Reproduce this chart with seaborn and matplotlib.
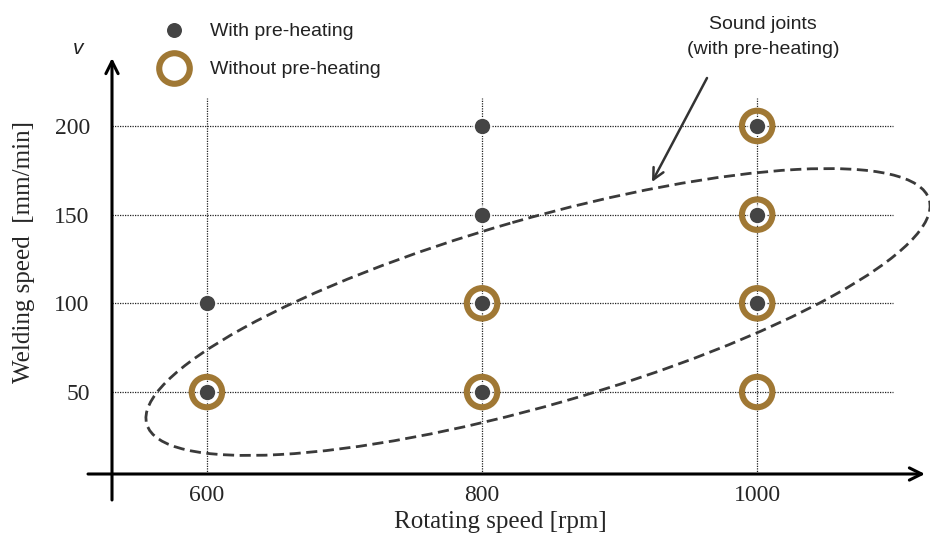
import numpy as np
import pandas as pd
import matplotlib
matplotlib.use("Agg")
import matplotlib.pyplot as plt
from matplotlib.patches import Ellipse
from matplotlib.lines import Line2D
import seaborn as sb

# data
rotating_with = [600, 600, 800, 800, 800, 800, 1000, 1000, 1000]
speed_with = [50, 100, 50, 100, 150, 200, 100, 150, 200]
rotating_without = [600, 800, 800, 1000, 1000, 1000, 1000]
speed_without = [50, 50, 100, 50, 100, 150, 200]
x_ticks = [600, 800, 1000]
y_ticks = [50, 100, 150, 200]

dark = '#444444'
brown = '#A07834'
serif = 'Liberation Serif'
sans = 'Liberation Sans'


def main():
    sb.set_style('white')
    plt.rcParams['font.family'] = ['Liberation Sans', 'DejaVu Sans']

    df_with = pd.DataFrame({'rpm': rotating_with, 'speed': speed_with})
    df_without = pd.DataFrame({'rpm': rotating_without, 'speed': speed_without})

    fig = plt.figure(figsize=(9.3, 5.36), dpi=100)
    W, H = 930, 536
    # axes placed so the spines sit where the hand-drawn axes are
    left, right, bottom, top = 112, 925, 474, 58
    ax = fig.add_axes([left / W, 1 - bottom / H, (right - left) / W, (bottom - top) / H])
    ax.set_xlim(531, 1122)
    ax.set_ylim(3.8, 238.3)

    # dotted grid
    ax.vlines(x_ticks, 3.8, 216, colors='#222222', linestyles=(0, (1, 1)), lw=0.9, zorder=1)
    ax.hlines(y_ticks, 531, 1099, colors='#222222', linestyles=(0, (1, 1)), lw=0.9, zorder=1)

    # markers
    sb.scatterplot(data=df_without, x='rpm', y='speed', ax=ax, s=480, marker='o',
                   facecolor='none', edgecolor=brown, linewidth=4.4, zorder=3, legend=False)
    sb.scatterplot(data=df_with, x='rpm', y='speed', ax=ax, s=150, marker='o',
                   color=dark, edgecolor='white', linewidth=1.2, zorder=4, legend=False)

    for s in ax.spines.values():
        s.set_visible(False)
    ax.set_xticks(x_ticks)
    ax.set_yticks(y_ticks)
    ax.tick_params(labelsize=17, direction='in', length=4, width=1, color='#222222')
    ax.tick_params(axis='x', pad=8)
    ax.tick_params(axis='y', pad=16)
    for lab in ax.get_xticklabels() + ax.get_yticklabels():
        lab.set_fontfamily(serif)

    # axis arrows
    ax.annotate('', xy=(0, 1), xytext=(0, -0.0625), xycoords='axes fraction',
                arrowprops=dict(arrowstyle='->', lw=2.2, color='black',
                                mutation_scale=22, shrinkA=0, shrinkB=0))
    ax.annotate('', xy=(1, 0), xytext=(-0.0295, 0), xycoords='axes fraction',
                arrowprops=dict(arrowstyle='->', lw=2.2, color='black',
                                mutation_scale=22, shrinkA=0, shrinkB=0))

    ax.set_xlabel('Rotating speed [rpm]', fontsize=18, fontfamily=serif, va='center')
    ax.xaxis.set_label_coords(500 / W, 1 - 522 / H, transform=fig.transFigure)
    ax.set_ylabel('Welding speed  [mm/min]', fontsize=18, fontfamily=serif, va='center')
    ax.yaxis.set_label_coords(24 / W, 1 - 252 / H, transform=fig.transFigure)

    # legend
    handles = [Line2D([], [], ls='none', marker='o', ms=12, mfc=dark, mec='white', mew=1.2),
               Line2D([], [], ls='none', marker='o', ms=22, mfc='none', mec=brown, mew=4.4)]
    ax.legend(handles, ['With pre-heating', 'Without pre-heating'], frameon=False,
              loc='upper left', bbox_to_anchor=(145 / W, 1 - 13 / H),
              bbox_transform=fig.transFigure, fontsize=14, labelspacing=1.05,
              handlelength=2.0, handletextpad=0.86, borderpad=0, labelcolor='#222222')

    # overlay in pixel coordinates for the sketch annotations
    ov = fig.add_axes([0, 0, 1, 1], zorder=5)
    ov.set_xlim(0, W)
    ov.set_ylim(H, 0)
    ov.axis('off')
    ov.patch.set_alpha(0)
    ov.add_patch(Ellipse((538, 312), width=814, height=186, angle=-16, fill=False,
                         ec='#3a3a3a', lw=2.0, ls=(0, (4, 2))))
    ov.annotate('', xy=(652, 182), xytext=(707, 78),
                arrowprops=dict(arrowstyle='->', lw=1.8, color='#333333',
                                mutation_scale=20, shrinkA=0, shrinkB=0))
    ov.text(763, 37, 'Sound joints\n(with pre-heating)', ha='center', va='center',
            fontsize=14, fontfamily=sans, color='#222222', linespacing=1.55)
    ov.text(78, 48, 'v', ha='center', va='center', fontsize=15, fontstyle='italic',
            fontfamily=sans, color='#222222')

    fig.savefig('out.png', dpi=100)


if __name__ == "__main__":
    main()
